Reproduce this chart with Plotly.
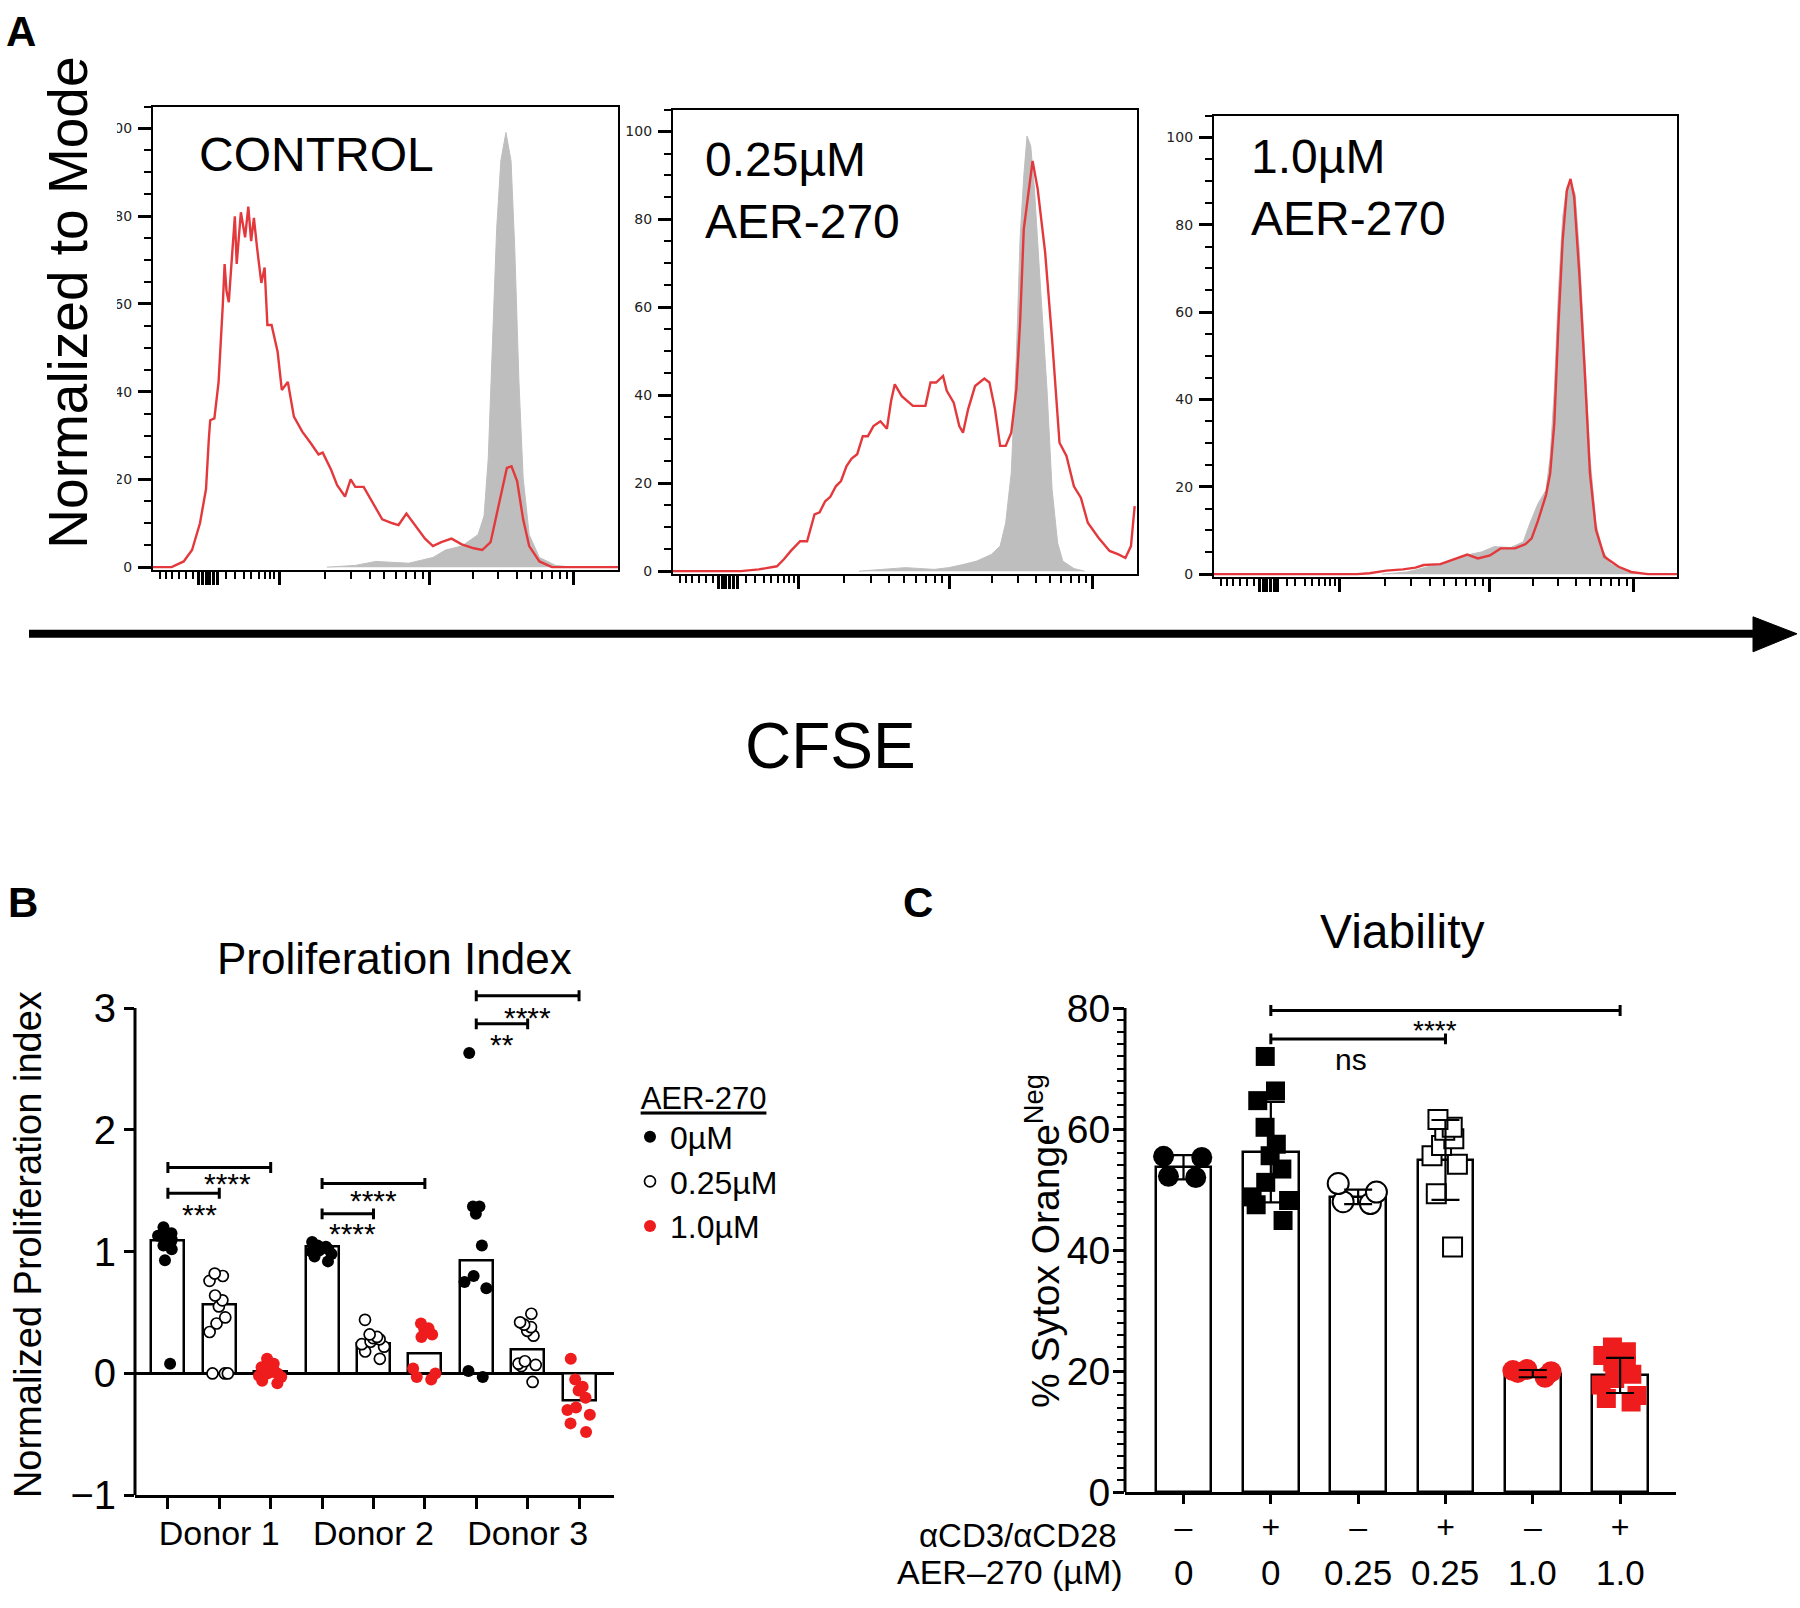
import plotly.graph_objects as go

W, H = 1800, 1608
def px(x): return x / W
def py(y): return 1 - y / H
# vertical calibration of the photographed page (measured from earlier renders)
def cy(y): return (y - 15.5) / 0.9765

SANS = "Liberation Sans, Arial, sans-serif"

# ---------------- Panel A data (CFSE histograms, display units 0-100) ----------------
A1_red_x = [0, 4.0, 6.6, 8.4, 10.1, 11.4, 12.0, 12.3, 13.2, 14.1, 15.0, 15.4, 15.8, 16.3, 16.7, 17.6, 18.0, 18.9, 19.8, 20.5,
            21.1, 21.7, 22.4, 23.3, 24.0, 24.6, 25.5, 26.8, 27.7, 29.0, 30.3, 32.1, 33.9, 35.6, 36.5, 38.3, 39.6, 41.3, 42.5, 43.5,
            45.3, 47.9, 49.3, 51.5, 52.8, 54.5, 55.8, 58.5, 60.2, 62.0, 64.2, 66.4, 69.0, 70.8, 72.6, 74.3, 76.1, 77.1, 78.3, 79.6,
            80.9, 83.1, 85.8, 100]
A1_red_y = [0, 0, 1.3, 3.9, 10.0, 17.8, 29.1, 33.5, 33.9, 42.2, 59.6, 69.1, 63.0, 60.4, 66.5, 80.0, 69.1, 80.9, 75.2, 82.2,
            74.3, 79.6, 72.6, 64.8, 68.3, 55.2, 55.2, 49.1, 40.4, 42.2, 34.3, 30.9, 28.3, 25.7, 26.1, 22.2, 18.7, 16.1, 20.0, 18.3,
            18.3, 13.5, 10.9, 10.0, 9.6, 12.2, 10.4, 6.5, 4.8, 5.7, 6.5, 5.2, 4.3, 3.9, 5.7, 14.3, 22.6, 23.0, 19.6, 10.9,
            4.8, 1.3, 0, 0]
A1_gray_x = [37.4, 43.5, 47.9, 55.0, 60.2, 62.9, 66.4, 69.9, 71.2, 72.1, 73.0, 73.9, 74.8, 75.9, 77.0, 77.8, 78.7, 79.6, 80.9,
             83.1, 86.6, 90.1]
A1_gray_y = [0, 0.4, 1.3, 0.9, 2.2, 3.9, 4.8, 7.4, 11.7, 24.8, 50.9, 77.0, 92.6, 99.1, 92.6, 72.6, 42.2, 20.4, 7.4, 2.2, 0.4, 0]

A2_red_x = [0, 14.6, 18.5, 20.8, 22.4, 23.9, 25.4, 27.4, 28.9, 30.5, 31.6, 32.8, 33.9, 35.1, 36.2, 37.4, 38.5, 39.7, 40.9, 42.0,
            43.2, 44.7, 46.1, 47.0, 47.8, 49.3, 51.7, 54.4, 55.5, 56.7, 58.2, 59.0, 60.5, 61.7, 62.5, 63.6, 65.1, 67.1, 68.2, 69.4,
            70.5, 71.7, 72.9, 74.0, 74.8, 75.6, 76.7, 77.5, 78.6, 80.2, 81.7, 83.3, 84.8, 86.4, 87.9, 89.4, 91.7, 94.1, 96.0, 97.5,
            98.7, 99.5]
A2_red_y = [0, 0, 0.4, 0.8, 1.1, 2.7, 4.6, 6.8, 6.8, 12.9, 13.4, 15.9, 16.9, 19.3, 20.5, 23.9, 25.6, 26.6, 30.7, 30.7,
            33.0, 34.1, 32.4, 38.7, 42.5, 39.8, 37.6, 37.6, 42.9, 42.9, 44.4, 41.0, 38.3, 33.0, 31.5, 36.8, 42.1, 43.8, 42.9, 36.8,
            28.5, 28.5, 31.5, 41.4, 56.5, 77.8, 86.9, 93.3, 86.9, 72.5, 52.7, 29.2, 26.2, 19.3, 16.7, 11.0, 7.6, 4.6, 3.8, 3.0,
            5.7, 14.8]
A2_gray_x = [40.1, 45.5, 50.1, 56.3, 59.4, 62.5, 65.5, 68.6, 70.5, 71.7, 72.9, 74.0, 74.8, 75.6, 76.3, 77.1, 77.9, 79.0, 80.6,
             81.7, 82.9, 84.0, 86.4, 88.7]
A2_gray_y = [0, 0.4, 0.8, 0.4, 0.8, 1.5, 2.3, 3.8, 5.7, 11.0, 22.4, 48.9, 75.5, 89.9, 99.0, 96.7, 86.9, 67.9, 41.4, 18.6,
             6.4, 2.3, 0.6, 0]

A3_red_x = [0, 30.9, 33.6, 37.2, 40.8, 43.5, 45.3, 48.9, 50.7, 53.4, 54.7, 57.0, 59.6, 61.9, 65.0, 67.3, 68.6, 70.0, 71.7, 72.6,
            73.5, 74.4, 75.3, 76.2, 77.0, 77.8, 78.9, 80.1, 81.2, 82.5, 84.3, 87.4, 90.1, 93.7, 100]
A3_red_y = [0, 0, 0.2, 0.8, 1.1, 1.5, 2.1, 2.3, 3.0, 4.1, 4.5, 3.6, 4.3, 5.9, 5.9, 6.9, 8.2, 12.3, 18.1, 23.0,
            34.5, 57.3, 76.4, 87.8, 90.5, 86.3, 68.8, 45.9, 23.0, 10.1, 4.0, 1.7, 0.5, 0, 0]
A3_gray_x = [36.3, 41.7, 48.9, 54.3, 57.8, 60.5, 64.1, 66.8, 68.2, 70.0, 71.7, 72.6, 73.5, 74.4, 75.3, 76.2, 77.0, 78.0, 78.9,
             80.1, 81.2, 82.5, 83.9, 85.7, 89.2, 93.7]
A3_gray_y = [0, 0.5, 2.4, 4.3, 5.1, 6.3, 6.1, 7.4, 11.6, 16.2, 19.2, 26.8, 42.1, 64.9, 81.7, 88.6, 90.1, 87.0, 74.1, 49.7,
             26.8, 11.6, 5.5, 2.4, 0.5, 0]

A_titles = ["CONTROL", "0.25\u00b5M<br>AER-270", "1.0\u00b5M<br>AER-270"]
A_yticks = [0, 20, 40, 60, 80, 100]

# biexponential-style CFSE axis ticks
A_major_ticks = [9.8, 10.6, 11.4, 12.2, 13.0, 13.8, 27.1, 59.5, 90.5]
A_minor_ticks = [1.5, 2.8, 4.1, 5.6, 7.2, 8.6, 15.8, 17.6, 19.6, 21.1, 22.7, 24.0, 25.1, 26.1,
                 36.9, 42.6, 46.6, 49.7, 52.3, 54.5, 56.4, 58.0,
                 68.8, 74.3, 78.2, 81.2, 83.6, 85.7, 87.5, 89.1]

# ---------------- Panel B data ----------------
B_categories = ["Donor 1", "Donor 2", "Donor 3"]
B_doses = ["0\u00b5M", "0.25\u00b5M", "1.0\u00b5M"]
B_yticks = [-1, 0, 1, 2, 3]
B_bar = [1.09, 0.57, 0.02, 1.04, 0.25, 0.16, 0.93, 0.20, -0.22]
B_points = [
    [1.20, 1.15, 1.13, 1.12, 1.10, 1.10, 1.08, 1.06, 1.05, 1.02, 0.93, 0.08],
    [0.82, 0.80, 0.76, 0.64, 0.60, 0.55, 0.46, 0.41, 0.34, 0.0, 0.0, 0.0],
    [0.12, 0.08, 0.05, 0.03, 0.02, 0.01, 0.0, 0.0, -0.02, -0.03, -0.06, -0.08],
    [1.08, 1.05, 1.04, 1.03, 1.02, 1.01, 1.00, 0.98, 0.96, 0.92],
    [0.44, 0.32, 0.30, 0.29, 0.28, 0.26, 0.24, 0.22, 0.18, 0.12],
    [0.41, 0.37, 0.36, 0.32, 0.30, 0.04, 0.0, -0.03, -0.05],
    [2.63, 1.37, 1.37, 1.31, 1.05, 0.80, 0.75, 0.70, 0.02, -0.03],
    [0.49, 0.42, 0.40, 0.38, 0.35, 0.31, 0.10, 0.08, 0.07, 0.06, -0.07],
    [0.12, -0.05, -0.11, -0.14, -0.20, -0.28, -0.30, -0.34, -0.41, -0.48],
]
B_brk_x0 = [0, 0, 3, 3, 6, 6]
B_brk_x1 = [2, 1, 5, 4, 8, 7]
B_brk_y = [1.69, 1.48, 1.56, 1.31, 3.10, 2.87]
B_star_text = ["****", "***", "****", "****", "****", "**"]
B_star_x = [1.16, 0.62, 4.0, 3.6, 6.99, 6.5]
B_star_y = [1.61, 1.35, 1.47, 1.20, 2.97, 2.75]

# ---------------- Panel C data ----------------
C_stim = ["\u2013", "+", "\u2013", "+", "\u2013", "+"]
C_dose = ["0", "0", "0.25", "0.25", "1.0", "1.0"]
C_yticks = [0, 20, 40, 60, 80]
C_bar = [53.7, 56.2, 48.8, 54.9, 19.6, 19.3]
C_sd = [2.0, 8.3, 1.2, 6.6, 0.6, 2.9]
C_points = [
    [55.5, 55.3, 52.2, 52.0],
    [72.0, 66.3, 64.7, 60.3, 57.5, 55.6, 53.4, 51.2, 48.8, 48.2, 47.5, 44.9],
    [51.0, 49.6, 48.0, 47.7],
    [61.6, 60.3, 59.8, 58.4, 57.3, 55.6, 54.2, 49.3, 40.5],
    [19.0, 20.3, 20.1, 19.9, 19.8],
    [24.0, 23.2, 22.6, 21.5, 21.0, 20.2, 19.5, 18.8, 17.7, 16.0, 15.5, 14.9],
]
C_brk_x0 = [1, 1]
C_brk_x1 = [5, 3]
C_brk_y = [79.6, 74.9]
C_text = ["****", "ns"]
C_text_x = [2.88, 1.92]
C_text_y = [77.3, 71.5]

RED = "#ee1c1c"
HRED = "#e4393c"
GRAY = "#bebebe"

fig = go.Figure()

# ---- Panel A traces ----
A_sets = [(A1_gray_x, A1_gray_y, A1_red_x, A1_red_y),
          (A2_gray_x, A2_gray_y, A2_red_x, A2_red_y),
          (A3_gray_x, A3_gray_y, A3_red_x, A3_red_y)]
for i, (gx, gy, rx, ry) in enumerate(A_sets):
    xa = "x" if i == 0 else f"x{i+1}"
    ya = "y" if i == 0 else f"y{i+1}"
    fig.add_trace(go.Scatter(x=gx, y=gy, mode="lines", fill="tozeroy", fillcolor=GRAY,
                             line=dict(color=GRAY, width=1), xaxis=xa, yaxis=ya,
                             showlegend=False, hoverinfo="skip"))
    fig.add_trace(go.Scatter(x=rx, y=ry, mode="lines", line=dict(color=HRED, width=2.4),
                             xaxis=xa, yaxis=ya, showlegend=False, hoverinfo="skip"))

# ---- Panel B ----
fig.add_trace(go.Bar(x=list(range(9)), y=B_bar, width=0.64,
                     marker=dict(color="white", line=dict(color="black", width=2.5)),
                     xaxis="x4", yaxis="y4", showlegend=False, hoverinfo="skip"))

B_marker_styles = [
    dict(color="black", size=12, line=dict(color="black", width=0)),
    dict(color="white", size=11, line=dict(color="black", width=1.7)),
    dict(color=RED, size=12, line=dict(color=RED, width=0)),
]
for i, vals in enumerate(B_points):
    fig.add_trace(go.Box(x=[i] * len(vals), y=vals, boxpoints="all", jitter=0.9, pointpos=0,
                         width=0.6, fillcolor="rgba(0,0,0,0)", line=dict(color="rgba(0,0,0,0)", width=0),
                         marker=dict(symbol="circle", **B_marker_styles[i % 3]),
                         xaxis="x4", yaxis="y4", showlegend=False, hoverinfo="skip"))

# legend entries
for j, name in enumerate(B_doses):
    fig.add_trace(go.Scatter(x=[None], y=[None], mode="markers", name=name,
                             marker=dict(symbol="circle", **B_marker_styles[j]),
                             xaxis="x4", yaxis="y4", showlegend=True))

# ---- Panel C ----
fig.add_trace(go.Bar(x=list(range(6)), y=C_bar, width=0.64,
                     marker=dict(color="white", line=dict(color="black", width=2.5)),
                     xaxis="x5", yaxis="y5", showlegend=False, hoverinfo="skip"))
C_styles = [
    dict(symbol="circle", color="black", size=21, line=dict(color="black", width=0)),
    dict(symbol="square", color="black", size=19, line=dict(color="black", width=0)),
    dict(symbol="circle", color="white", size=21, line=dict(color="black", width=2)),
    dict(symbol="square", color="white", size=19, line=dict(color="black", width=2)),
    dict(symbol="circle", color=RED, size=21, line=dict(color=RED, width=0)),
    dict(symbol="square", color=RED, size=19, line=dict(color=RED, width=0)),
]
for i, vals in enumerate(C_points):
    fig.add_trace(go.Box(x=[i] * len(vals), y=vals, boxpoints="all", jitter=0.9, pointpos=0,
                         width=0.6, fillcolor="rgba(0,0,0,0)", line=dict(color="rgba(0,0,0,0)", width=0),
                         marker=C_styles[i], xaxis="x5", yaxis="y5", showlegend=False, hoverinfo="skip"))
fig.add_trace(go.Scatter(x=list(range(6)), y=C_bar, mode="markers",
                         marker=dict(size=1, color="rgba(0,0,0,0)"),
                         error_y=dict(type="data", array=C_sd, visible=True, color="black", thickness=2.2, width=14),
                         xaxis="x5", yaxis="y5", showlegend=False, hoverinfo="skip"))

# ---------------- axes ----------------
A_dom_x = [(153, 618), (673, 1137), (1214, 1677)]
A_dom_y = [(107, 570), (110, 574), (116, 577)]
layout_axes = {}
for i in range(3):
    sx = "xaxis" if i == 0 else f"xaxis{i+1}"
    sy = "yaxis" if i == 0 else f"yaxis{i+1}"
    anc_x = "y" if i == 0 else f"y{i+1}"
    anc_y = "x" if i == 0 else f"x{i+1}"
    layout_axes[sx] = dict(domain=[px(A_dom_x[i][0]), px(A_dom_x[i][1])], anchor=anc_x, range=[0, 100],
                           showticklabels=False, showgrid=False, zeroline=False,
                           showline=True, linecolor="black", linewidth=2.2, mirror=True,
                           ticks="outside", tickmode="array", tickvals=A_major_ticks, ticklen=13, tickwidth=3,
                           tickcolor="black",
                           minor=dict(tickmode="array", tickvals=A_minor_ticks, ticks="outside", ticklen=7,
                                      tickwidth=1.6, tickcolor="black"))
    layout_axes[sy] = dict(domain=[py(cy(A_dom_y[i][1])), py(cy(A_dom_y[i][0]))], anchor=anc_y, range=[-0.6, 105],
                           showgrid=False, zeroline=False, showline=True, linecolor="black", linewidth=2.2,
                           mirror=True, ticks="outside", tickmode="array", tickvals=A_yticks,
                           ticklen=13, tickwidth=2.5, tickcolor="black", ticklabelstandoff=3,
                           tickfont=dict(family="DejaVu Sans", size=14, color="#222"),
                           minor=dict(tickmode="linear", tick0=0, dtick=5, ticks="outside", ticklen=7,
                                      tickwidth=1.6, tickcolor="black"))

layout_axes["xaxis4"] = dict(domain=[px(135), px(614)], anchor="y4", range=[-0.64, 8.68],
                             tickmode="array", tickvals=[1, 4, 7], ticktext=B_categories,
                             ticks="outside", ticklen=11, tickwidth=3, tickcolor="black", ticklabelstandoff=-5,
                             minor=dict(tickmode="array", tickvals=list(range(9)), ticks="outside", ticklen=11,
                                        tickwidth=3, tickcolor="black"),
                             showline=True, linecolor="black", linewidth=3, showgrid=False, zeroline=False,
                             tickfont=dict(family=SANS, size=34, color="black"))
layout_axes["yaxis4"] = dict(domain=[py(cy(1495)), py(cy(971.5))], anchor="x4", range=[-1, 3.3],
                             tickmode="array", tickvals=B_yticks,
                             ticks="outside", ticklen=10, tickwidth=3, tickcolor="black",
                             showline=False, showgrid=False, zeroline=True, zerolinecolor="black",
                             zerolinewidth=3, tickfont=dict(family=SANS, size=40, color="black"))
layout_axes["xaxis5"] = dict(domain=[px(1125), px(1676)], anchor="y5", range=[-0.67, 5.64],
                             tickmode="array", tickvals=list(range(6)), ticktext=C_stim,
                             ticks="outside", ticklen=9, tickwidth=3, tickcolor="black", ticklabelstandoff=-5,
                             showline=True, linecolor="black", linewidth=3, showgrid=False, zeroline=False,
                             tickfont=dict(family=SANS, size=32, color="black"))
layout_axes["yaxis5"] = dict(domain=[py(cy(1492)), py(cy(1002))], anchor="x5", range=[0, 81],
                             tickmode="array", tickvals=C_yticks,
                             ticks="outside", ticklen=11, tickwidth=3, tickcolor="black",
                             ticklabelstandoff=-5,
                             showline=False, showgrid=False, zeroline=False,
                             tickfont=dict(family=SANS, size=39, color="black"),
                             minor=dict(tickmode="linear", tick0=0, dtick=2, ticks="outside", ticklen=7,
                                        tickwidth=2.2, tickcolor="black"))

# ---------------- shapes ----------------
shapes = []
# white mask partly covering the A1 tick labels (as in the original figure)
shapes.append(dict(type="rect", xref="paper", yref="paper", x0=px(0), x1=px(117), y0=py(cy(560)), y1=py(cy(55)),
                   fillcolor="white", line=dict(width=0), layer="above"))
# big CFSE arrow
shapes.append(dict(type="line", xref="paper", yref="paper", x0=px(29), x1=px(1760), y0=py(cy(634)), y1=py(cy(634)),
                   line=dict(color="black", width=8)))
shapes.append(dict(type="path", xref="paper", yref="paper",
                   path=f"M {px(1753)},{py(cy(617))} L {px(1797)},{py(cy(634))} L {px(1753)},{py(cy(652))} Z",
                   fillcolor="black", line=dict(color="black", width=1)))
# B y-axis line (stops at 3)
shapes.append(dict(type="line", xref="x4 domain", yref="y4", x0=0, x1=0, y0=-1, y1=3,
                   line=dict(color="black", width=3)))
# C y-axis line (stops at 80)
shapes.append(dict(type="line", xref="x5 domain", yref="y5", x0=0, x1=0, y0=0, y1=80,
                   line=dict(color="black", width=3)))

def bracket(x0, x1, y, c, xr, yr):
    return dict(type="path", xref=xr, yref=yr, layer="above",
                path=f"M {x0},{y-c} L {x0},{y+c} M {x0},{y} L {x1},{y} M {x1},{y-c} L {x1},{y+c}",
                line=dict(color="black", width=3))

for x0, x1, y in zip(B_brk_x0, B_brk_x1, B_brk_y):
    shapes.append(bracket(x0, x1, y, 0.045, "x4", "y4"))
for x0, x1, y in zip(C_brk_x0, C_brk_x1, C_brk_y):
    shapes.append(bracket(x0, x1, y, 0.9, "x5", "y5"))

# ---------------- annotations ----------------
ann = []
def pa(text, x, y, size, xanchor="center", yanchor="middle", angle=0, align="center", bold=False, raw=False):
    t = f"<b>{text}</b>" if bold else text
    yy = y if raw else cy(y)
    ann.append(dict(text=t, x=px(x), y=py(yy), xref="paper", yref="paper", showarrow=False,
                    xanchor=xanchor, yanchor=yanchor, textangle=angle, align=align,
                    font=dict(family=SANS, size=size, color="black")))

pa("A", 21, 17, 42, bold=True, raw=True)
pa("B", 23, 903, 42, bold=True)
pa("C", 918, 903, 42, bold=True)
pa("Normalized to Mode", 68, 303, 55, angle=-90)
pa(A_titles[0], 197, 155, 48, xanchor="left")
pa(A_titles[1], 703, 191, 48, xanchor="left", align="left")
pa(A_titles[2], 1249, 188, 48, xanchor="left", align="left")
pa("CFSE", 830, 746, 64)
pa("Proliferation Index", 394, 959, 44)
pa("Normalized Proliferation index", 28, 1245, 38, angle=-90)
pa("Viability", 1402, 932, 48)
pa("% Sytox Orange<sup>Neg</sup>", 1042, 1241, 39, angle=-90)
pa("\u03b1CD3/\u03b1CD28", 1119, 1556, 33, xanchor="right", raw=True)
pa("AER\u2013270 (\u00b5M)", 1125, 1594, 34, xanchor="right", raw=True)

for t, x, y in zip(B_star_text, B_star_x, B_star_y):
    ann.append(dict(text=t, x=x, y=y, xref="x4", yref="y4", showarrow=False, yshift=-6,
                    font=dict(family=SANS, size=30, color="black")))
for t, x, y in zip(C_text, C_text_x, C_text_y):
    star = t.startswith("*")
    ann.append(dict(text=t, x=x, y=y, xref="x5", yref="y5", showarrow=False,
                    yshift=-6 if star else 0,
                    font=dict(family=SANS, size=28 if star else 30, color="black")))
for i, d in enumerate(C_dose):
    ann.append(dict(text=d, x=i, y=py(1594), xref="x5", yref="paper", showarrow=False,
                    yanchor="middle", font=dict(family=SANS, size=35, color="black")))

fig.update_layout(
    width=W, height=H, margin=dict(l=0, r=0, t=0, b=0),
    paper_bgcolor="white", plot_bgcolor="white",
    hovermode=False, bargap=0, barmode="overlay", boxmode="overlay",
    shapes=shapes, annotations=ann,
    legend=dict(x=px(630), y=py(1079), xanchor="left", yanchor="top",
                font=dict(family=SANS, size=32, color="black"),
                title=dict(text='&nbsp;<span style="text-decoration:underline">AER-270</span>',
                           font=dict(family=SANS, size=31, color="black"), side="top"),
                bgcolor="rgba(0,0,0,0)", tracegroupgap=0, itemwidth=30),
    **layout_axes,
)

POST = ("var d=document.getElementById('{plot_id}');"
        "var h=document.documentElement,b=document.body;"
        "h.style.margin='0';h.style.padding='0';h.style.overflow='hidden';h.style.height='1608px';"
        "b.style.margin='0';b.style.padding='0';b.style.overflow='hidden';b.style.height='1608px';"
        "d.style.position='absolute';d.style.left='0px';d.style.top='0px';")

fig.write_html("out.html", config={"displayModeBar": False}, post_script=POST)
